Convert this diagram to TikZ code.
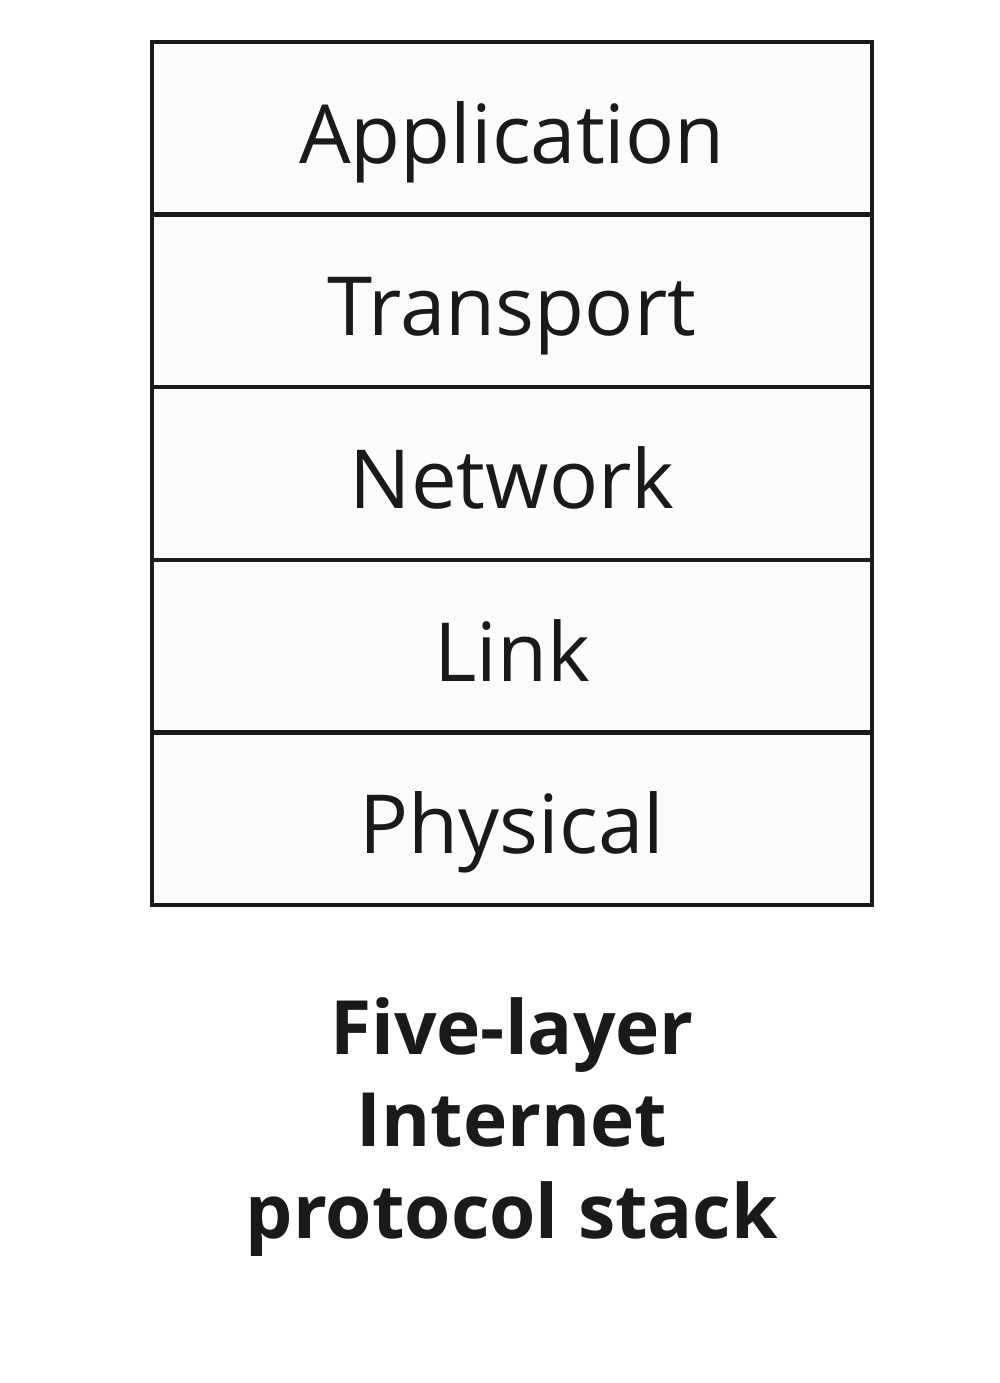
\documentclass[tikz,border=0pt]{standalone}
\usepackage{fontspec}
\setmainfont{Open Sans}
\usepackage{xcolor}
\usetikzlibrary{positioning}
\definecolor{inkGrey}{HTML}{1a1a1a}
\definecolor{paperWhite}{HTML}{fcfcfa}

\begin{document}
\begin{tikzpicture}[stackbox/.style={draw=inkGrey, fill=paperWhite, line width=0.045cm, outer sep=0pt, minimum width=7.2cm, minimum height=1.726cm, text height=0.75cm, text depth=0.05cm, font=\fontsize{23.2}{28}\selectfont, text=inkGrey}]
\useasboundingbox (0,0) rectangle (10,-13.83);
\node[stackbox, anchor=north west] (application) at (1.52,-0.42) {Application};
\node[stackbox, below=0pt of application] (transport) {Transport};
\node[stackbox, below=0pt of transport] (network) {Network};
\node[stackbox, below=0pt of network] (link) {Link};
\node[stackbox, below=0pt of link] (physical) {Physical};
\node[below=0.92cm of physical, inner sep=0pt, align=center, text=inkGrey, font=\fontsize{21.3}{26.2}\selectfont\bfseries]
  (caption) {Five-layer\\Internet\\protocol stack};
\end{tikzpicture}
\end{document}
